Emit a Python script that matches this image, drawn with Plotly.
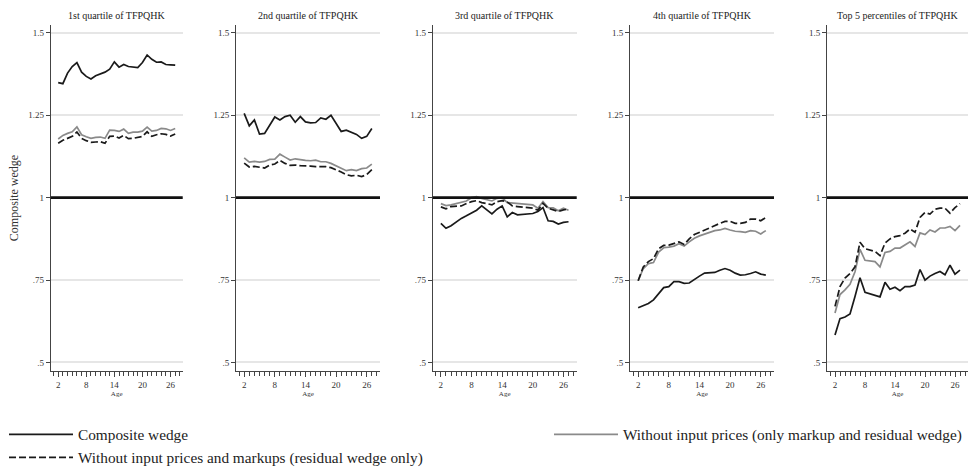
import plotly.graph_objects as go

ages = list(range(2, 28))

panel_titles = ["1st quartile of TFPQHK", "2nd quartile of TFPQHK", "3rd quartile of TFPQHK",
                "4th quartile of TFPQHK", "Top 5 percentiles of TFPQHK"]

# Composite wedge
composite = [
    [1.349, 1.346, 1.378, 1.398, 1.410, 1.381, 1.368, 1.360, 1.370, 1.376, 1.381, 1.390, 1.412,
     1.396, 1.404, 1.398, 1.397, 1.395, 1.410, 1.433, 1.420, 1.411, 1.412, 1.404, 1.403, 1.402],
    [1.256, 1.218, 1.236, 1.193, 1.195, 1.222, 1.245, 1.236, 1.246, 1.250, 1.229, 1.246, 1.230,
     1.227, 1.228, 1.242, 1.238, 1.250, 1.225, 1.201, 1.205, 1.199, 1.192, 1.180, 1.186, 1.210],
    [0.922, 0.907, 0.915, 0.926, 0.937, 0.945, 0.953, 0.962, 0.975, 0.962, 0.951, 0.965, 0.975,
     0.942, 0.955, 0.948, 0.950, 0.950, 0.952, 0.958, 0.970, 0.930, 0.928, 0.920, 0.925, 0.927],
    [0.666, 0.673, 0.679, 0.690, 0.708, 0.727, 0.730, 0.745, 0.745, 0.740, 0.741, 0.752, 0.762,
     0.771, 0.773, 0.773, 0.780, 0.785, 0.780, 0.771, 0.765, 0.766, 0.770, 0.775, 0.768, 0.765],
    [0.583, 0.633, 0.638, 0.647, 0.700, 0.757, 0.713, 0.708, 0.704, 0.699, 0.743, 0.722, 0.728,
     0.718, 0.730, 0.730, 0.735, 0.782, 0.750, 0.762, 0.770, 0.776, 0.766, 0.795, 0.768, 0.780],
]

# Without input prices (only markup and residual wedge)
no_input_prices = [
    [1.178, 1.189, 1.195, 1.200, 1.215, 1.191, 1.185, 1.180, 1.183, 1.184, 1.180, 1.205, 1.204,
     1.201, 1.208, 1.195, 1.199, 1.199, 1.202, 1.214, 1.202, 1.204, 1.210, 1.209, 1.204, 1.210],
    [1.121, 1.108, 1.110, 1.108, 1.110, 1.116, 1.117, 1.132, 1.123, 1.114, 1.118, 1.115, 1.113,
     1.112, 1.114, 1.109, 1.109, 1.104, 1.097, 1.090, 1.082, 1.085, 1.082, 1.088, 1.090, 1.102],
    [0.982, 0.976, 0.978, 0.982, 0.985, 0.990, 1.000, 1.003, 0.998, 0.993, 0.990, 0.998, 1.000,
     0.985, 0.984, 0.982, 0.980, 0.979, 0.978, 0.968, 0.988, 0.970, 0.969, 0.960, 0.968, 0.962],
    [0.748, 0.785, 0.800, 0.803, 0.835, 0.848, 0.850, 0.853, 0.860, 0.853, 0.866, 0.877, 0.884,
     0.890, 0.895, 0.900, 0.902, 0.907, 0.902, 0.898, 0.897, 0.895, 0.900, 0.898, 0.890, 0.900],
    [0.650, 0.706, 0.720, 0.737, 0.775, 0.843, 0.810, 0.808, 0.806, 0.790, 0.834, 0.837, 0.847,
     0.847, 0.856, 0.866, 0.852, 0.893, 0.888, 0.902, 0.896, 0.908, 0.908, 0.913, 0.900, 0.916],
]

# Without input prices and markups (residual wedge only)
residual_only = [
    [1.165, 1.174, 1.180, 1.186, 1.199, 1.180, 1.173, 1.168, 1.169, 1.170, 1.165, 1.186, 1.187,
     1.181, 1.189, 1.179, 1.180, 1.182, 1.186, 1.200, 1.186, 1.191, 1.194, 1.192, 1.187, 1.193],
    [1.105, 1.093, 1.095, 1.092, 1.090, 1.099, 1.102, 1.113, 1.104, 1.098, 1.099, 1.097, 1.097,
     1.096, 1.094, 1.095, 1.094, 1.091, 1.085, 1.078, 1.070, 1.066, 1.068, 1.064, 1.070, 1.085],
    [0.972, 0.966, 0.973, 0.973, 0.975, 0.982, 0.988, 0.991, 0.985, 0.982, 0.978, 0.988, 0.991,
     0.987, 0.975, 0.973, 0.972, 0.970, 0.968, 0.962, 0.983, 0.968, 0.962, 0.958, 0.963, 0.965],
    [0.748, 0.790, 0.806, 0.815, 0.845, 0.855, 0.856, 0.862, 0.866, 0.858, 0.875, 0.888, 0.895,
     0.903, 0.910, 0.917, 0.922, 0.928, 0.928, 0.922, 0.922, 0.925, 0.935, 0.935, 0.930, 0.940],
    [0.670, 0.730, 0.756, 0.770, 0.790, 0.865, 0.845, 0.840, 0.837, 0.824, 0.862, 0.875, 0.882,
     0.885, 0.892, 0.905, 0.895, 0.940, 0.955, 0.950, 0.965, 0.968, 0.968, 0.953, 0.970, 0.982],
]

series_names = ["Composite wedge",
                "Without input prices (only markup and residual wedge)",
                "Without input prices and markups (residual wedge only)"]

x_major = [2, 8, 14, 20, 26]
y_ticks = [0.5, 0.75, 1.0, 1.25, 1.5]
y_ticktext = [".5", ".75", "1", "1.25", "1.5"]

W, H = 969, 467
FONT = "Liberation Serif, Times New Roman, serif"

# panel pixel extents (left, right)
panel_px = [(50.7, 182.7), (236, 380), (432.7, 576.7), (630, 774), (827, 968)]
top_px, bot_px = 25, 371

styles = [
    dict(color="#1a1a1a", width=1.7, dash="solid"),
    dict(color="#8a8a8a", width=1.7, dash="solid"),
    dict(color="#1a1a1a", width=1.7, dash="7px,3px"),
]
legend_ids = ["legend", "legend2", "legend"]

fig = go.Figure()
layout = {}
for i in range(5):
    n = "" if i == 0 else str(i + 1)
    xa, ya = "x" + n, "y" + n
    for s, (name, data) in enumerate(zip(series_names, [composite, no_input_prices, residual_only])):
        fig.add_trace(go.Scatter(
            x=ages, y=data[i][:len(ages)], mode="lines", name=name,
            line=styles[s], xaxis=xa, yaxis=ya,
            legendgroup=name, showlegend=(i == 0), legend=legend_ids[s],
        ))
    l, r = panel_px[i]
    layout["xaxis" + n] = dict(
        domain=[l / W, r / W], range=[0.4, 28.6], anchor=ya,
        showline=True, linecolor="#444", linewidth=1, mirror=False,
        showgrid=False, zeroline=False,
        tickmode="array", tickvals=x_major, ticktext=[str(v) for v in x_major],
        ticks="outside", ticklen=5, tickcolor="#444", tickwidth=1,
        minor=dict(tick0=2, dtick=1, ticks="outside", ticklen=4, tickcolor="#444", tickwidth=1, showgrid=False),
        tickfont=dict(family=FONT, size=9, color="#333"),
        title=dict(text="Age", font=dict(family=FONT, size=7, color="#333"), standoff=2),
        automargin=False,
    )
    layout["yaxis" + n] = dict(
        domain=[1 - bot_px / H, 1 - top_px / H], range=[0.474, 1.524], anchor=xa,
        showline=True, linecolor="#444", linewidth=1,
        showgrid=True, gridcolor="#e6e6e6", gridwidth=1.5, zeroline=False,
        tickmode="array", tickvals=y_ticks, ticktext=y_ticktext,
        ticks="outside", ticklen=4, tickcolor="#444", tickwidth=1,
        tickfont=dict(family=FONT, size=9, color="#333"),
        automargin=False,
    )
    if i == 0:
        layout["yaxis"]["title"] = dict(text="Composite wedge", font=dict(family=FONT, size=12, color="#333"), standoff=6)
    fig.add_shape(type="line", xref=xa + " domain", yref=ya, x0=0, x1=1, y0=1, y1=1,
                  line=dict(color="#111", width=2.6), layer="above")
    fig.add_annotation(text=panel_titles[i], xref=xa + " domain", yref="paper",
                       x=0.5, y=1 - 15 / H, showarrow=False, xanchor="center", yanchor="middle",
                       font=dict(family=FONT, size=10, color="#222"))

legend_common = dict(orientation="v", xanchor="left", yanchor="top", itemwidth=64,
                     font=dict(family=FONT, size=15.3, color="#222"), tracegroupgap=0,
                     traceorder="normal", bgcolor="rgba(0,0,0,0)")
fig.update_layout(
    width=W, height=H, margin=dict(l=0, r=0, t=0, b=0, autoexpand=False),
    paper_bgcolor="white", plot_bgcolor="white",
    showlegend=True,
    legend=dict(x=4 / W, y=1 - 418 / H, **legend_common),
    legend2=dict(x=549 / W, y=1 - 418 / H, **legend_common),
    **layout,
)
fig.write_html("out.html")
